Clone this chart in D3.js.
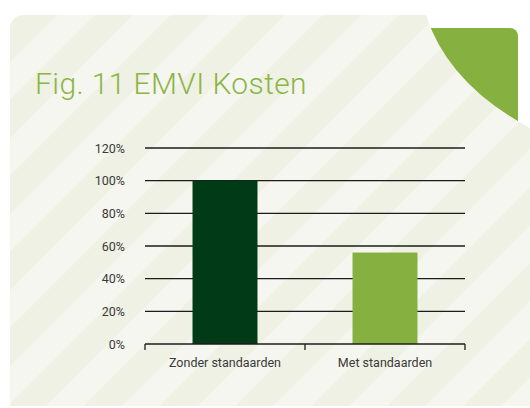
<!DOCTYPE html>
<html>
<head>
<meta charset="utf-8">
<script src="https://cdn.jsdelivr.net/npm/d3@7"></script>
<style>
html,body{margin:0;padding:0;background:#fff;}
svg{display:block;}
</style>
</head>
<body>
<svg id="chart" width="530" height="408"></svg>
<script>
const title = "Fig. 11 EMVI Kosten";
const categories = ["Zonder standaarden", "Met standaarden"];
const values = [1.00, 0.56];
const barColors = ["#003a16", "#86b03f"];
const yTicks = [0, 0.2, 0.4, 0.6, 0.8, 1.0, 1.2];

const svg = d3.select("#chart");
const defs = svg.append("defs");

// stripe pattern
const pat = defs.append("pattern")
  .attr("id", "stripes")
  .attr("patternUnits", "userSpaceOnUse")
  .attr("width", 53.7).attr("height", 53.7)
  .attr("patternTransform", "translate(72,0) rotate(45)");
pat.append("rect").attr("width", 53.7).attr("height", 53.7).attr("fill", "#f5f6ef");
pat.append("rect").attr("x", 26.85).attr("width", 26.85).attr("height", 53.7).attr("fill", "#eef1e4");

// green corner
svg.append("rect")
  .attr("x", 418).attr("y", 28).attr("width", 100).attr("height", 110)
  .attr("rx", 8).attr("fill", "#86b03f");

// panel
svg.append("path")
  .attr("d", "M10,406 L10,29 Q10,15 24,15 L426,15 Q448,84 530,128 L530,406 Z")
  .attr("fill", "url(#stripes)");

// title
svg.append("text")
  .attr("x", 35).attr("y", 94)
  .attr("font-family", "Roboto, 'Open Sans', sans-serif")
  .attr("font-weight", 300)
  .attr("font-size", 30)
  .attr("letter-spacing", 0.4)
  .attr("fill", "#8cb547")
  .text(title);

const x = d3.scaleBand().domain(categories).range([145, 465]).paddingInner(0.594).paddingOuter(0.297);
const y = d3.scaleLinear().domain([0, 1.2]).range([344, 148]);

const font = "Roboto, 'DejaVu Sans', sans-serif";

// gridlines
svg.append("g").selectAll("line").data(yTicks.filter(d => d > 0)).join("line")
  .attr("x1", 145).attr("x2", 465)
  .attr("y1", d => y(d)).attr("y2", d => y(d))
  .attr("stroke", "#1c1c1c").attr("stroke-width", 1.3);

// bars
svg.append("g").selectAll("rect").data(values).join("rect")
  .attr("x", (d, i) => x(categories[i]))
  .attr("y", d => y(d))
  .attr("width", x.bandwidth())
  .attr("height", d => y(0) - y(d))
  .attr("fill", (d, i) => barColors[i]);

// y axis labels
const yAxis = d3.axisLeft(y).tickValues(yTicks).tickFormat(d3.format(".0%")).tickSize(0).tickPadding(20);
const gy = svg.append("g").attr("transform", "translate(145,0)").call(yAxis);
gy.select(".domain").remove();
gy.selectAll("text").attr("font-family", font).attr("font-size", 12.5).attr("fill", "#3a3a3a");

// x axis
const xAxis = d3.axisBottom(x).tickSize(0).tickPadding(14);
const gx = svg.append("g").attr("transform", "translate(0,344)").call(xAxis);
gx.select(".domain").remove();
gx.selectAll("text").attr("font-family", font).attr("font-size", 12.5).attr("fill", "#3a3a3a");

// baseline with end/boundary ticks
const bounds = [145, 305, 465];
svg.append("line").attr("x1", 145).attr("x2", 465).attr("y1", 344).attr("y2", 344)
  .attr("stroke", "#1c1c1c").attr("stroke-width", 1.3);
svg.append("g").selectAll("line").data(bounds).join("line")
  .attr("x1", d => d).attr("x2", d => d).attr("y1", 344).attr("y2", 350)
  .attr("stroke", "#1c1c1c").attr("stroke-width", 1.3);
</script>
</body>
</html>
